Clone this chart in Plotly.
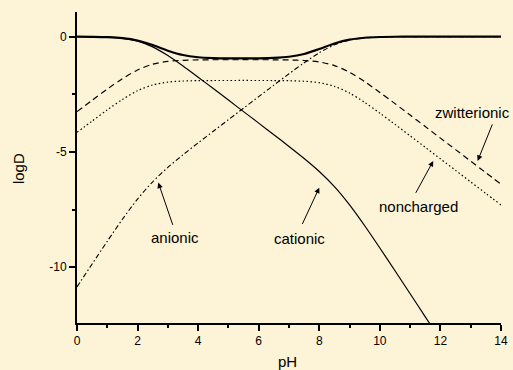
import plotly.graph_objects as go

# pH grid (read points every 0.5 pH unit)
ph = [0, 0.5, 1, 1.5, 2, 2.5, 3, 3.5, 4, 4.5, 5, 5.5, 6, 6.5, 7, 7.5, 8, 8.5,
      9, 9.5, 10, 10.5, 11, 11.5, 12, 12.5, 13, 13.5, 14]

total = [-0.002, -0.007, -0.021, -0.062, -0.167, -0.365, -0.608, -0.797, -0.893,
         -0.929, -0.942, -0.943, -0.939, -0.922, -0.872, -0.750, -0.536, -0.296,
         -0.127, -0.046, -0.015, -0.004, -0.002, 0.0, 0.0, 0.0, 0.0, 0.0, 0.0]

cationic = [-0.002, -0.008, -0.024, -0.071, -0.194, -0.444, -0.821, -1.274, -1.758,
            -2.252, -2.751, -3.251, -3.751, -4.253, -4.761, -5.283, -5.847, -6.504,
            -7.296, -8.202, -9.167, -10.155, -11.152, -12.151, -13.150]

anionic = [-10.852, -9.858, -8.874, -7.921, -7.044, -6.294, -5.671, -5.124, -4.608,
           -4.103, -3.601, -3.101, -2.601, -2.103, -1.611, -1.133, -0.697, -0.354,
           -0.146, -0.052, -0.017, -0.005, -0.002, -0.001, 0.0, 0.0, 0.0, 0.0, 0.0]

zwitterionic = [-3.252, -2.758, -2.274, -1.821, -1.444, -1.194, -1.071, -1.024, -1.008,
                -1.002, -1.001, -1.000, -1.001, -1.003, -1.011, -1.033, -1.097, -1.254,
                -1.546, -1.952, -2.417, -2.905, -3.402, -3.901, -4.400, -4.900, -5.400,
                -5.900, -6.400]

noncharged = [-4.152, -3.658, -3.174, -2.721, -2.344, -2.094, -1.971, -1.924, -1.908,
              -1.902, -1.901, -1.900, -1.901, -1.903, -1.911, -1.933, -1.997, -2.154,
              -2.446, -2.852, -3.317, -3.805, -4.302, -4.801, -5.300, -5.800, -6.300,
              -6.800, -7.300]

x_ticks = [0, 2, 4, 6, 8, 10, 12, 14]
y_ticks = [0, -5, -10]

# label positions (text centre) and arrow tail/head, in data units
labels = ["anionic", "cationic", "noncharged", "zwitterionic"]
label_x = [3.235, 7.339, 11.268, 13.073]
label_y = [-8.70, -8.77, -7.35, -3.30]
tail_x = [3.179, 7.418, 11.159, 13.734]
tail_y = [-8.23, -8.19, -6.84, -3.74]
head_x = [2.684, 7.999, 11.763, 13.229]
head_y = [-6.33, -6.55, -5.39, -5.39]

BG = "#FDF3D6"
FONT = "Liberation Sans, Arial, sans-serif"

fig = go.Figure()
fig.add_trace(go.Scatter(x=ph, y=noncharged, mode="lines",
                         line=dict(color="black", width=1.2, dash="1.5px,2.5px", shape="spline", smoothing=0.8)))
fig.add_trace(go.Scatter(x=ph, y=zwitterionic, mode="lines",
                         line=dict(color="black", width=1.2, dash="6px,4px", shape="spline", smoothing=0.8)))
fig.add_trace(go.Scatter(x=ph, y=anionic, mode="lines",
                         line=dict(color="black", width=1.1, dash="5px,2.5px,1.5px,2.5px", shape="spline", smoothing=0.8)))
fig.add_trace(go.Scatter(x=ph[:len(cationic)], y=cationic, mode="lines",
                         line=dict(color="black", width=1.2, shape="spline", smoothing=0.8)))
fig.add_trace(go.Scatter(x=ph, y=total, mode="lines",
                         line=dict(color="black", width=2.2, shape="spline", smoothing=0.8)))

for t, lx, ly, tx, ty, hx, hy in zip(labels, label_x, label_y, tail_x, tail_y, head_x, head_y):
    fig.add_annotation(x=lx, y=ly, xref="x", yref="y", text=t, showarrow=False,
                       font=dict(family=FONT, size=15, color="black"),
                       xanchor="center", yanchor="middle")
    fig.add_annotation(x=hx, y=hy, ax=tx, ay=ty, xref="x", yref="y", axref="x", ayref="y",
                       text="", showarrow=True, arrowhead=2, arrowsize=1.1,
                       arrowwidth=1, arrowcolor="black")

# axis titles
fig.add_annotation(x=0.497, y=-0.125, xref="paper", yref="paper", text="pH", showarrow=False,
                   font=dict(family=FONT, size=15, color="black"), xanchor="center", yanchor="middle")
fig.add_annotation(x=-0.139, y=0.495, xref="paper", yref="paper", text="logD", showarrow=False,
                   textangle=-90, font=dict(family=FONT, size=15, color="black"),
                   xanchor="center", yanchor="middle")

fig.update_layout(
    width=513, height=370,
    margin=dict(l=77, r=12, t=12, b=47, autoexpand=False),
    paper_bgcolor=BG, plot_bgcolor=BG,
    showlegend=False,
    font=dict(family=FONT, size=12, color="black"),
)
fig.update_xaxes(range=[0, 14], tickvals=x_ticks, ticktext=[str(v) for v in x_ticks],
                 automargin=False,
                 showgrid=False, zeroline=False, showline=True, linecolor="black", linewidth=2,
                 ticks="outside", ticklen=6, tickwidth=1.5, tickcolor="black",
                 minor=dict(dtick=1, tick0=0, ticks="outside", ticklen=3, tickwidth=1.5, tickcolor="black"),
                 tickfont=dict(family=FONT, size=12, color="black"))
fig.update_yaxes(range=[-12.42, 1.07], tickvals=y_ticks, ticktext=[str(v) for v in y_ticks],
                 automargin=False,
                 showgrid=False, zeroline=False, showline=True, linecolor="black", linewidth=2,
                 ticks="outside", ticklen=6, tickwidth=1.5, tickcolor="black",
                 minor=dict(dtick=2.5, tick0=0, ticks="outside", ticklen=3, tickwidth=1.5, tickcolor="black"),
                 tickfont=dict(family=FONT, size=12, color="black"))

fig.write_html("out.html", config={"displayModeBar": False},
               post_script="document.body.style.margin='0px';document.body.style.overflow='hidden';"
                           "document.body.style.background='" + BG + "';")
